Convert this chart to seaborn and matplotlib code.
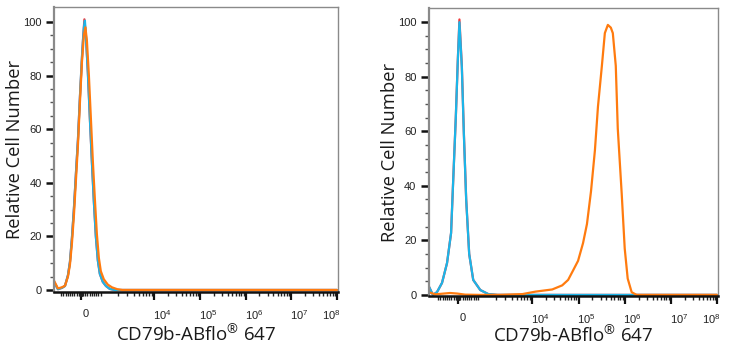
import numpy as np
import pandas as pd
import matplotlib
matplotlib.use("Agg")
import matplotlib.pyplot as plt
import matplotlib.transforms as mtransforms
from matplotlib.ticker import FixedLocator, NullFormatter
import seaborn as sns

# ---------------------------------------------------------------- data
# Left panel: CD79b-negative cells (isotype / stained overlap)
left_red_x = [-1250, -1050, -864, -727, -591, -500, -409, -318, -227, -136, -45, 91, 159, 227, 318, 409, 500, 591, 682, 773, 864, 1000, 1150, 1364, 1700, 1e8]
left_red_y = [3.0, 0.3, 0.8, 1.5, 5.5, 10.5, 19.5, 30.5, 43.5, 56, 72, 93, 101, 95, 81, 64, 48, 33, 20, 11, 6, 3, 1.5, 0.4, 0, 0]

left_cyan_x = [-1250, -1050, -864, -727, -591, -500, -409, -318, -227, -136, -45, 46, 136, 182, 227, 318, 409, 500, 591, 682, 773, 864, 1000, 1150, 1364, 1700, 1e8]
left_cyan_y = [3.0, 0.3, 0.8, 1.5, 5.5, 10.5, 19.5, 30.5, 43.5, 56, 72, 87, 98, 100.5, 95, 81, 64, 48, 33, 20, 11, 6, 3, 1.5, 0.4, 0, 0]

left_orange_x = [-1250, -1050, -864, -727, -591, -500, -409, -318, -227, -136, -45, 46, 136, 205, 273, 364, 455, 545, 636, 727, 818, 909, 1045, 1250, 1500, 1900, 2400, 1e8]
left_orange_y = [3.5, 0.6, 1.0, 1.6, 5.0, 9.5, 17.5, 28, 41, 54, 70, 85, 95, 98, 93, 80, 64, 48, 34, 21, 12, 7, 4, 2, 1, 0.3, 0, 0]

# Right panel: CD79b-positive cells
right_red_x = [-1360, -1143, -955, -727, -500, -318, -227, -105, -14, 59, 168, 259, 364, 500, 682, 1000, 1425, 2123, 1e8]
right_red_y = [3.0, 0.0, 1.0, 4.4, 11.7, 22.7, 41, 65, 86, 101, 84, 59.5, 35, 15, 5.5, 1.8, 0.3, 0, 0]

right_cyan_x = [-1360, -1143, -955, -727, -500, -318, -227, -105, -14, 59, 168, 259, 364, 500, 682, 1000, 1425, 2123, 1e8]
right_cyan_y = [3.0, 0.0, 1.0, 4.4, 11.7, 22.7, 41, 65, 86, 100, 83.5, 59, 35, 15, 5.5, 1.8, 0.3, 0, 0]

right_orange_x = [-1360, -1040, -364, -45, 318, 1000, 2427, 6427, 11600, 26900, 44200, 59400, 76200, 97500, 125000,
                  152000, 186000, 226000, 263000, 320000, 371000, 431000, 500000, 552000, 640000, 707000,
                  861000, 1000000, 1160000, 1413000, 1811000, 1e8]
right_orange_y = [1.0, 0.2, 0.7, 0.5, 0.1, 0, 0, 0.3, 1.2, 2, 3.5, 5.5, 9, 12.5, 19,
                  26, 38, 53, 69, 84, 96, 99, 98, 96, 84, 61,
                  37, 17, 6, 1, 0, 0]

series_names = ["isotype", "control", "CD79b"]
series_colors = ["#f0393b", "#1cb5e8", "#ff7b0f"]

x_label = "CD79b-ABflo$\\mathregular{^{®}}$ 647"
y_label = "Relative Cell Number"
y_ticks = [0, 20, 40, 60, 80, 100]
x_major_ticks = [0, 1e4, 1e5, 1e6, 1e7, 1e8]
x_major_labels = ["0", "$\\mathregular{10^{4}}$", "$\\mathregular{10^{5}}$",
                  "$\\mathregular{10^{6}}$", "$\\mathregular{10^{7}}$", "$\\mathregular{10^{8}}$"]

# ---------------------------------------------------------------- biexponential-like axis
LIN = 0.48     # half-width of linear zone (in decade units) for |x| <= 1000
FIRST = 1.13   # width of the 10^3 - 10^4 transition decade


def biex_fwd(x):
    x = np.asarray(x, dtype=float)
    a = np.abs(x)
    with np.errstate(divide="ignore", invalid="ignore"):
        L = np.log10(np.maximum(a, 1000.0) / 1000.0)
    u = np.where(a <= 1000, a / 1000.0 * LIN,
                 LIN + FIRST * np.minimum(L, 1) + np.maximum(L - 1, 0))
    return np.sign(x) * u


def biex_inv(u):
    u = np.asarray(u, dtype=float)
    b = np.abs(u)
    L = np.where(b <= LIN + FIRST, (b - LIN) / FIRST, 1 + (b - LIN - FIRST))
    with np.errstate(over="ignore"):
        a = np.where(b <= LIN, b / LIN * 1000.0, 1000.0 * 10 ** L)
    return np.sign(u) * a


# ---------------------------------------------------------------- style
sns.set_style("white")
plt.rcParams["font.family"] = ["Open Sans", "DejaVu Sans"]
plt.rcParams["mathtext.fontset"] = "custom"
plt.rcParams["mathtext.rm"] = "Liberation Sans"
plt.rcParams["mathtext.it"] = "Liberation Sans:italic"
plt.rcParams["mathtext.bf"] = "Liberation Sans:bold"

fig = plt.figure(figsize=(7.29, 3.5), dpi=100)
panels = [
    dict(rect=[54 / 729, 58 / 350, 284 / 729, 285 / 350], xlim=(-1250, 1.05e8), ylim=(-0.75, 105.6),
         xlab_y=-0.152, ylab_x=-0.137,
         xs=[left_red_x, left_cyan_x, left_orange_x], ys=[left_red_y, left_cyan_y, left_orange_y]),
    dict(rect=[429 / 729, 54 / 350, 289 / 729, 288 / 350], xlim=(-1360, 1.05e8), ylim=(-0.4, 105.2),
         xlab_y=-0.140, ylab_x=-0.135,
         xs=[right_red_x, right_cyan_x, right_orange_x], ys=[right_red_y, right_cyan_y, right_orange_y]),
]

minor_x = [m * 10 ** k for k in range(3, 8) for m in range(2, 10)]
minor_x += [v for v in range(-900, 1000, 100) if v != 0]
minor_x += [v for v in range(-60, 70, 15)]

for p in panels:
    ax = fig.add_axes(p["rect"])
    frames = []
    for name, xs, ys in zip(series_names, p["xs"], p["ys"]):
        frames.append(pd.DataFrame({"intensity": xs, "count": ys, "series": name}))
    df = pd.concat(frames, ignore_index=True)
    sns.lineplot(data=df, x="intensity", y="count", hue="series", hue_order=series_names,
                 palette=dict(zip(series_names, series_colors)), estimator=None, sort=False,
                 legend=False, linewidth=1.6, ax=ax)

    ax.set_xscale("function", functions=(biex_fwd, biex_inv))
    ax.set_xlim(*p["xlim"])
    ax.set_ylim(*p["ylim"])

    ax.xaxis.set_major_locator(FixedLocator(x_major_ticks))
    ax.set_xticklabels(x_major_labels)
    ax.xaxis.set_minor_locator(FixedLocator(minor_x))
    ax.xaxis.set_minor_formatter(NullFormatter())
    ax.set_yticks(y_ticks)
    ax.yaxis.set_minor_locator(FixedLocator(np.arange(0, 105, 5)))

    ax.tick_params(axis="x", which="major", direction="out", length=6, width=1.6, color="#111111",
                   labelsize=8, pad=6, labelcolor="#222222", bottom=True)
    ax.tick_params(axis="x", which="minor", direction="out", length=3.2, width=1.0, color="#222222", bottom=True)
    ax.tick_params(axis="y", which="major", direction="out", length=6, width=1.8, color="#111111",
                   labelsize=8, pad=3, labelcolor="#222222", left=True)
    ax.tick_params(axis="y", which="minor", direction="out", length=3, width=1.0, color="#555555", left=True)
    for lbl in ax.get_xticklabels() + ax.get_yticklabels():
        lbl.set_family(["Liberation Sans", "DejaVu Sans"])

    # FlowJo-style placement of the decade labels
    shifts = [5, 8, 8, 8, 8, -6]
    for lbl, dx in zip(ax.get_xticklabels(), shifts):
        lbl.set_transform(lbl.get_transform() + mtransforms.ScaledTranslation(dx / 100, 0, fig.dpi_scale_trans))

    for side in ["top", "right"]:
        ax.spines[side].set_color("#8a8a8a")
        ax.spines[side].set_linewidth(1.0)
    ax.spines["left"].set_color("#8a8a8a")
    ax.spines["left"].set_linewidth(1.6)
    ax.spines["bottom"].set_color("#111111")
    ax.spines["bottom"].set_linewidth(1.8)

    ax.set_xlabel(x_label, fontsize=13.5, color="#1a1a1a")
    ax.set_ylabel(y_label, fontsize=13.2, color="#1a1a1a")
    ax.xaxis.set_label_coords(0.5, p["xlab_y"])
    ax.xaxis.label.set_va("center")
    ax.yaxis.set_label_coords(p["ylab_x"], 0.5)
    ax.yaxis.label.set_va("center")

fig.savefig("out.png", dpi=100, facecolor="white")
